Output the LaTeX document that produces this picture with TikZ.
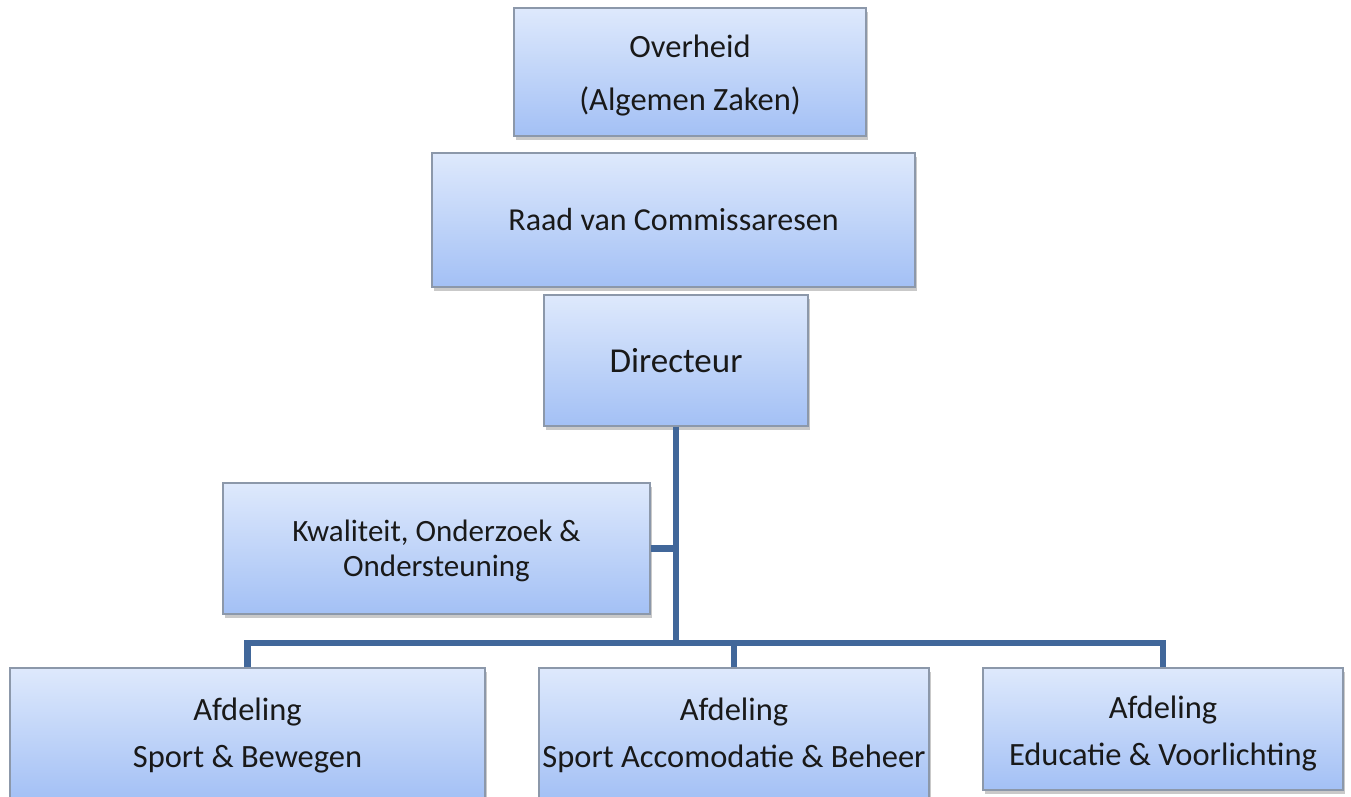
\documentclass[tikz,border=0pt]{standalone}
\usepackage{fontspec}
\setmainfont{Carlito}
\usetikzlibrary{shadows}
\definecolor{boxtop}{RGB}{222,233,252}
\definecolor{boxbot}{RGB}{163,192,245}
\definecolor{boxline}{RGB}{140,152,170}
\definecolor{connc}{RGB}{65,103,154}
\tikzset{
  orgbox/.style={draw=boxline, line width=1.2pt, top color=boxtop, bottom color=boxbot,
    inner sep=0pt,
    drop shadow={shadow xshift=2pt, shadow yshift=-4pt, opacity=0.3, fill=black!70}},
  orgtext/.style={align=center, inner sep=0pt, text=black!90}
}
\tikzset{conn/.style={draw=connc, line width=6.5pt, line join=miter}}
\newcommand{\orgnode}[8]{% name, x1, y1, x2, y2, font, text, text shift
  \node[orgbox, minimum width={#4-#2}, minimum height={#5-#3}] (#1) at ({(#2+#4)/2},{(#3+#5)/2}) {};
  \node[orgtext, font={#6}] (#1-t) at ([yshift=-#8 pt]#1.center) {#7};}
\begin{document}
\begin{tikzpicture}[x=1pt,y=-1pt]
\useasboundingbox (0,0) rectangle (1351,796);
\orgnode{ov}{514}{8}{866}{136}{\fontsize{32.5}{53}\selectfont}{Overheid\\ (Algemen Zaken)}{3.5}
\orgnode{rc}{432}{153}{915}{287}{\fontsize{32}{38}\selectfont}{Raad van Commissaresen}{0}
\orgnode{dir}{544}{295}{808}{426}{\fontsize{35}{40}\selectfont}{Directeur}{0}
\orgnode{kos}{223}{483}{650}{614}{\fontsize{31}{35}\selectfont}{Kwaliteit, Onderzoek \&\\ Ondersteuning}{2}
\orgnode{a1}{10}{668}{485}{800}{\fontsize{32.5}{47}\selectfont}{Afdeling\\ Sport \& Bewegen}{1.5}
\orgnode{a2}{539}{668}{929}{800}{\fontsize{32.5}{47}\selectfont}{Afdeling\\ Sport Accomodatie \& Beheer}{1}
\orgnode{a3}{983}{668}{1343}{790}{\fontsize{32.5}{47}\selectfont}{Afdeling\\ Educatie \& Voorlichting}{4}
\coordinate (bus) at (677,643);
\draw[conn] (dir.south) -- (dir.south |- bus);
\draw[conn] (kos.east) -- (kos.east -| dir.south);
\draw[conn] (a1.north) -- (a1.north |- bus) -- (a3.north |- bus) -- (a3.north);
\draw[conn] (a2.north) -- (a2.north |- bus);
\end{tikzpicture}
\end{document}
